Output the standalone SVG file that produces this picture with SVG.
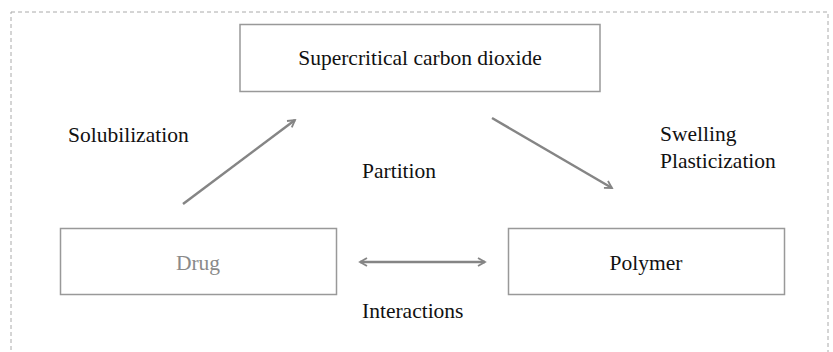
<svg xmlns="http://www.w3.org/2000/svg" width="833" height="352" viewBox="0 0 833 352">
<style>
.box{fill:#fff;stroke:#999;stroke-width:1.5}
.t{font-family:"Liberation Serif","Times New Roman",serif;font-size:21.5px;fill:#111}
.c{stroke:#858585;stroke-width:2.5;fill:none}
</style>
<defs>
<marker id="ah" viewBox="0 0 10 10" refX="8" refY="5" markerWidth="4" markerHeight="4" orient="auto-start-reverse" markerUnits="strokeWidth">
<path d="M1,1 L8,5 L1,9" fill="none" stroke="#858585" stroke-width="1.8"/>
</marker>
</defs>
<rect width="833" height="352" fill="#fff"/>
<rect x="11" y="12" width="817" height="360" fill="none" stroke="#aaa" stroke-width="1" stroke-dasharray="4,3"/>
<g id="scco2"><rect class="box" x="240" y="24.5" width="360" height="67"/><text class="t" x="420" y="65" text-anchor="middle">Supercritical carbon dioxide</text></g>
<g id="drug"><rect class="box" x="60.5" y="228.5" width="276" height="66"/><text class="t" x="198" y="270" text-anchor="middle" style="fill:#8a8a8a">Drug</text></g>
<g id="polymer"><rect class="box" x="508.5" y="228.5" width="276" height="66"/><text class="t" x="646" y="270" text-anchor="middle">Polymer</text></g>
<g id="connectors">
<line class="c" x1="183" y1="204" x2="295" y2="120" marker-end="url(#ah)"/>
<line class="c" x1="492" y1="118" x2="612" y2="188" marker-end="url(#ah)"/>
<line class="c" x1="360" y1="262" x2="485" y2="262" marker-start="url(#ah)" marker-end="url(#ah)"/>
</g>
<g id="labels">
<text class="t" x="68" y="142">Solubilization</text>
<text class="t" x="362" y="178">Partition</text>
<text class="t" x="660" y="141">Swelling</text>
<text class="t" x="660" y="168">Plasticization</text>
<text class="t" x="362" y="318">Interactions</text>
</g>
</svg>
